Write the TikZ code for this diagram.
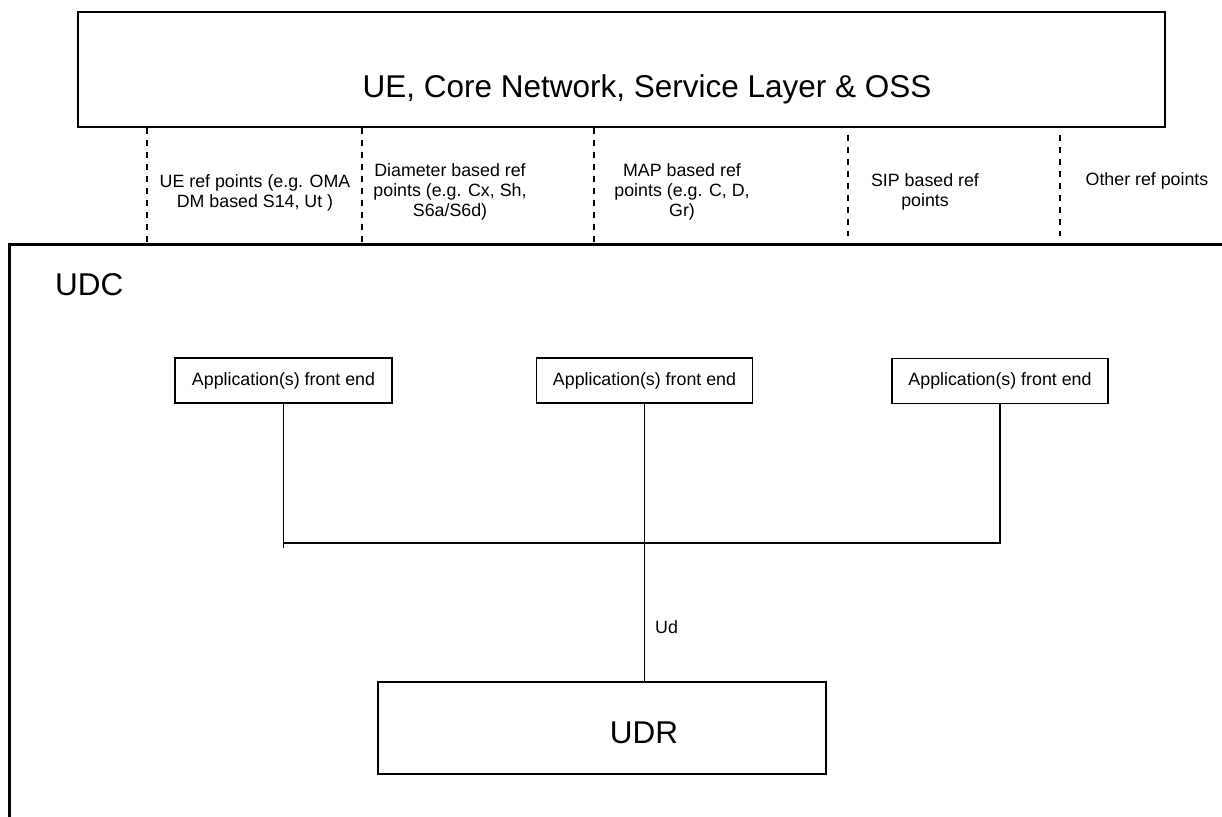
\documentclass[tikz,border=0pt]{standalone}
\usepackage{fontspec}
\setmainfont{Liberation Sans}

\begin{document}
\begin{tikzpicture}[x=1pt,y=-1pt,
  box/.style={draw,line width=1.3pt,inner sep=0pt},
  txt/.style={inner sep=0pt,font=\fontsize{17.8}{20}\selectfont,align=center},
  big/.style={inner sep=0pt,font=\fontsize{31.5}{36}\selectfont},
  refline/.style={line width=1.5pt,dash pattern=on 6pt off 6pt},
  wire/.style={line width=1.3pt}]
\useasboundingbox (0,0) rectangle (1222,816);
\begin{scope}
\clip (0,0) rectangle (1222,816);
\node[box,line width=2.6pt,anchor=north west,minimum width=1300pt,minimum height=700pt] (udc) at (8,243) {};
\end{scope}
\node[box,minimum width=1087pt,minimum height=115pt] (core) at (621.5,69.5) {};
\node[big] (coretext) at (647,89) {UE, Core Network, Service Layer \& OSS};
\node[big,anchor=base west] (udctext) at (55,295) {UDC};

% reference points
\coordinate (c1) at (147,0);
\coordinate (c2) at (362,0);
\coordinate (c3) at (594,0);
\coordinate (c4) at (848,0);
\coordinate (c5) at (1060,0);
\foreach \c in {c1,c2,c3}
  \draw[refline] (core.south -| \c) -- (udc.north -| \c);
\foreach \c in {c4,c5}
  \draw[refline,shorten <=7pt,shorten >=7pt] (core.south -| \c) -- (udc.north -| \c);
\node[txt] (ue) at (255,193) {UE ref points (e.g. OMA\\DM based S14, Ut )};
\node[txt] (dia) at (450,192) {Diameter based ref\\points (e.g. Cx, Sh,\\S6a/S6d)};
\node[txt] (map) at (682,192) {MAP based ref\\points (e.g. C, D,\\Gr)};
\node[txt] (sip) at (925,192) {SIP based ref\\points};
\node[txt,anchor=base] (other) at (1147,185) {Other ref points};

% front ends and UDR
\node[box,txt,minimum width=217pt,minimum height=45pt] (fe1) at (283.5,380.5) {Application(s) front end};
\node[box,txt,minimum width=216pt,minimum height=45pt] (fe2) at (644.5,380.5) {Application(s) front end};
\node[box,txt,minimum width=216pt,minimum height=45pt] (fe3) at (1000,381) {Application(s) front end};
\node[box,minimum width=448pt,minimum height=92pt] (udr) at (602,728) {};
\node[big,anchor=base] (udrtext) at (644,743) {UDR};

\coordinate (bus) at (642,543);
\coordinate (busend) at (286,548);
\draw[wire] (fe1) -- (fe1 |- busend);
\draw[wire] (fe1 |- bus) -- (fe3 |- bus) -- (fe3);
\draw[wire] (fe2) -- (fe2 |- udr.north);
\node[txt,anchor=base west] (ud) at (655,633) {Ud};
\end{tikzpicture}
\end{document}
